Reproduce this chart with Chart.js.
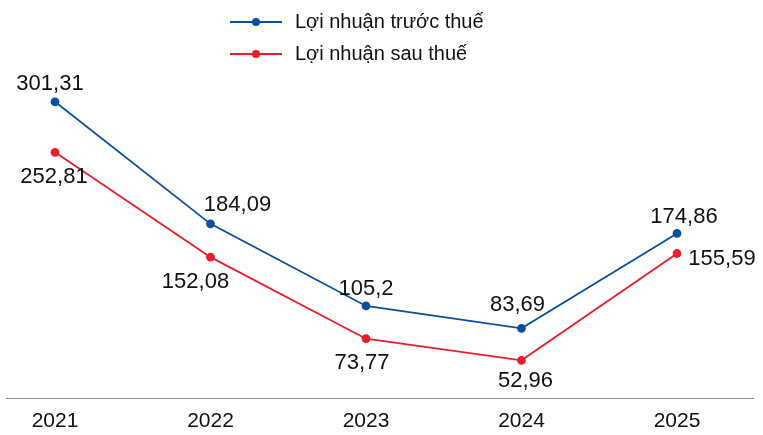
<!DOCTYPE html>
<html>
<head>
<meta charset="utf-8">
<script src="https://cdn.jsdelivr.net/npm/chart.js@4"></script>
<style>
    html, body { margin: 0; padding: 0; background: #fff; }
    #wrap { width: 763px; height: 435px; }
</style>
</head>
<body>
<div id="wrap"><canvas id="chart"></canvas></div>
<script>
// Data
const years = ["2021", "2022", "2023", "2024", "2025"];
const truocThue = [301.31, 184.09, 105.2, 83.69, 174.86];
const sauThue = [252.81, 152.08, 73.77, 52.96, 155.59];
const seriesNames = ["Lợi nhuận trước thuế", "Lợi nhuận sau thuế"];

// Label offsets from the point (dx, dy), per series
const labelOffsets = [
    [[-5, -18], [27, -19], [0, -17], [-4, -23], [7, -17]],
    [[-1, 25], [-15, 25], [-4, 24], [4, 21], [45, 5]]
];

const FONT = "'Liberation Sans', Arial, sans-serif";
const BLUE = "#0b4f9f";
const RED = "#ed1c2a";

function fmt(v) {
    return String(v).replace(".", ",");
}

// Value labels next to each point
const valueLabels = {
    id: "valueLabels",
    afterDatasetsDraw(chart) {
        const ctx = chart.ctx;
        ctx.save();
        ctx.font = "22px " + FONT;
        ctx.fillStyle = "#111";
        ctx.textAlign = "center";
        ctx.textBaseline = "middle";
        chart.data.datasets.forEach(function (ds, di) {
            const meta = chart.getDatasetMeta(di);
            meta.data.forEach(function (pt, i) {
                const off = labelOffsets[di][i];
                ctx.fillText(fmt(ds.data[i]), pt.x + off[0], pt.y + off[1]);
            });
        });
        ctx.restore();
    }
};

// Bottom rule across the full width
const baseLine = {
    id: "baseLine",
    beforeDatasetsDraw(chart) {
        const ctx = chart.ctx;
        const y = Math.round(chart.chartArea.bottom) + 0.5;
        ctx.save();
        ctx.strokeStyle = "#8a8a8a";
        ctx.lineWidth = 1.2;
        ctx.beginPath();
        ctx.moveTo(6, y);
        ctx.lineTo(754, y);
        ctx.stroke();
        ctx.restore();
    }
};

// Stacked legend: line with dot + name
const stackedLegend = {
    id: "stackedLegend",
    afterDraw(chart) {
        const ctx = chart.ctx;
        const x0 = 230;
        ctx.save();
        ctx.font = "20px " + FONT;
        ctx.textBaseline = "middle";
        ctx.textAlign = "left";
        chart.data.datasets.forEach(function (ds, i) {
            const y = 22 + i * 32;
            ctx.strokeStyle = ds.borderColor;
            ctx.lineWidth = 2;
            ctx.beginPath();
            ctx.moveTo(x0, y);
            ctx.lineTo(x0 + 52, y);
            ctx.stroke();
            ctx.fillStyle = ds.borderColor;
            ctx.beginPath();
            ctx.arc(x0 + 26, y, 4, 0, Math.PI * 2);
            ctx.fill();
            ctx.fillStyle = "#111";
            ctx.fillText(ds.label, x0 + 65, y);
        });
        ctx.restore();
    }
};

new Chart(document.getElementById("chart"), {
    type: "line",
    data: {
        labels: years,
        datasets: [
            {
                label: seriesNames[0],
                data: truocThue,
                borderColor: BLUE,
                backgroundColor: BLUE,
                borderWidth: 1.8,
                pointRadius: 3.5,
                pointHoverRadius: 3.5,
                tension: 0
            },
            {
                label: seriesNames[1],
                data: sauThue,
                borderColor: RED,
                backgroundColor: RED,
                borderWidth: 1.8,
                pointRadius: 3.5,
                pointHoverRadius: 3.5,
                tension: 0
            }
        ]
    },
    options: {
        responsive: true,
        maintainAspectRatio: false,
        animation: false,
        layout: { padding: { top: 74, left: 55, right: 86, bottom: -10 } },
        plugins: {
            legend: { display: false },
            tooltip: { enabled: false }
        },
        scales: {
            x: {
                offset: false,
                grid: { display: false, drawTicks: false },
                border: { display: false },
                ticks: {
                    padding: 11,
                    color: "#111",
                    font: { family: FONT, size: 21 }
                }
            },
            y: {
                display: false,
                min: 17,
                max: 328
            }
        }
    },
    plugins: [valueLabels, baseLine, stackedLegend]
});
</script>
</body>
</html>
